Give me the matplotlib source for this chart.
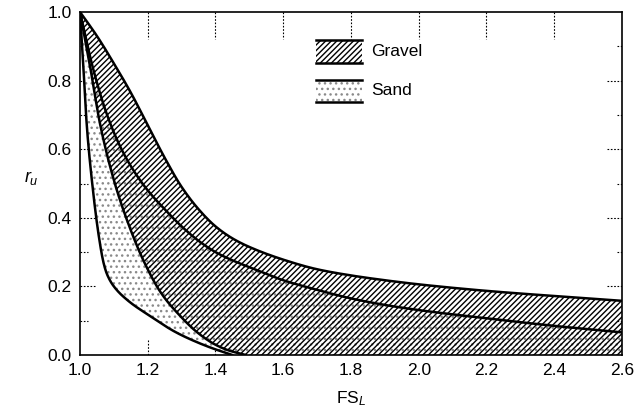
import numpy as np
import matplotlib
matplotlib.use("Agg")
import matplotlib.pyplot as plt
import matplotlib.patches as mpatches

plt.rcParams.update({
    "font.family": ["Liberation Sans", "DejaVu Sans"],
    "mathtext.fontset": "custom",
    "mathtext.rm": "Liberation Sans",
    "mathtext.it": "Liberation Sans:italic",
    "font.size": 12.5,
    "hatch.linewidth": 1.0,
})

# ---- curves: (FS_L, r_u) ----
# A: upper bound of gravel band
A_X = [1.00, 1.05, 1.10, 1.15, 1.20, 1.25, 1.30, 1.35, 1.40, 1.45, 1.50, 1.60, 1.70, 1.80, 1.90, 2.00, 2.20, 2.40, 2.60]
A_Y = [1.00, 0.93, 0.85, 0.765, 0.67, 0.575, 0.49, 0.425, 0.375, 0.340, 0.315, 0.278, 0.250, 0.232, 0.218, 0.206, 0.187, 0.172, 0.158]
# B: upper bound of sand band (middle line)
B_X = [1.00, 1.04, 1.08, 1.12, 1.16, 1.20, 1.25, 1.30, 1.35, 1.40, 1.45, 1.50, 1.60, 1.70, 1.80, 1.90, 2.00, 2.20, 2.40, 2.60]
B_Y = [1.00, 0.83, 0.70, 0.605, 0.535, 0.48, 0.425, 0.375, 0.333, 0.300, 0.276, 0.256, 0.218, 0.190, 0.165, 0.146, 0.131, 0.107, 0.085, 0.066]
# C: lower bound of gravel band
C_X = [1.00, 1.03, 1.06, 1.10, 1.14, 1.19, 1.24, 1.29, 1.35, 1.40, 1.44, 1.49]
C_Y = [1.00, 0.84, 0.67, 0.51, 0.39, 0.27, 0.18, 0.12, 0.063, 0.030, 0.013, 0.000]
# D: lower bound of sand band
D_X = [1.00, 1.01, 1.02, 1.035, 1.055, 1.07, 1.08, 1.10, 1.14, 1.20, 1.28, 1.33, 1.39, 1.45]
D_Y = [1.00, 0.84, 0.67, 0.51, 0.35, 0.267, 0.235, 0.200, 0.160, 0.118, 0.068, 0.044, 0.020, 0.000]

X_TICKS = [1.0, 1.2, 1.4, 1.6, 1.8, 2.0, 2.2, 2.4, 2.6]
Y_TICKS = [0.0, 0.2, 0.4, 0.6, 0.8, 1.0]
Y_MINOR = [0.1, 0.3, 0.5, 0.7, 0.9]


def pchip(x, y, xs):
    """monotone cubic through the read points (keeps curves smooth, no overshoot)"""
    x = np.asarray(x, float); y = np.asarray(y, float)
    h = np.diff(x); dl = np.diff(y) / h
    m = np.zeros_like(y)
    for k in range(1, len(x) - 1):
        if dl[k - 1] * dl[k] > 0:
            w1 = 2 * h[k] + h[k - 1]; w2 = h[k] + 2 * h[k - 1]
            m[k] = (w1 + w2) / (w1 / dl[k - 1] + w2 / dl[k])
    m[0] = dl[0]; m[-1] = dl[-1]
    xs = np.clip(xs, x[0], x[-1])
    i = np.clip(np.searchsorted(x, xs) - 1, 0, len(x) - 2)
    t = (xs - x[i]) / h[i]
    h00 = 2*t**3 - 3*t**2 + 1; h10 = t**3 - 2*t**2 + t
    h01 = -2*t**3 + 3*t**2; h11 = t**3 - t**2
    return h00*y[i] + h10*h[i]*m[i] + h01*y[i+1] + h11*h[i]*m[i+1]


fig = plt.figure(figsize=(6.43, 4.12), dpi=100)
ax = fig.add_axes([0.1244, 0.1383, 0.8429, 0.8326])

xs = np.linspace(1.0, 2.6, 1200)
a = pchip(A_X, A_Y, xs)
b = pchip(B_X, B_Y, xs)
c = np.where(xs <= C_X[-1], pchip(C_X, C_Y, xs), 0.0)
d = np.where(xs <= D_X[-1], pchip(D_X, D_Y, xs), 0.0)

# sand band (stippled) then gravel band (hatched) on top
ax.fill_between(xs, d, b, facecolor="white", edgecolor="#8a8a8a", hatch="...", lw=0, zorder=1)
ax.fill_between(xs, c, a, facecolor="none", edgecolor="black", hatch="//////", lw=0, zorder=2)

for cx, cy in [(A_X, a), (B_X, b), (C_X, c), (D_X, d)]:
    keep = xs <= cx[-1]
    ax.plot(xs[keep], cy[keep], color="black", lw=1.8, zorder=3, solid_capstyle="round")

ax.set_xlim(1.0, 2.6)
ax.set_ylim(0.0, 1.0)
ax.set_xticks(X_TICKS)
ax.set_yticks(Y_TICKS)
ax.set_xticklabels([f"{v:.1f}" for v in X_TICKS])
ax.set_yticklabels([f"{v:.1f}" for v in Y_TICKS])
ax.tick_params(length=0, pad=6, labelsize=12.5)
for s in ax.spines.values():
    s.set_linewidth(1.2)

# dotted inward ticks
xt = ax.get_xaxis_transform()
yt = ax.get_yaxis_transform()
dot = dict(color="black", lw=0.8, ls=(0, (1.5, 1.5)), zorder=0.5)
for v in X_TICKS[1:-1]:
    ax.plot([v, v], [1.0, 0.92], transform=xt, **dot)
    ax.plot([v, v], [0.0, 0.045], transform=xt, **dot)
for v in Y_TICKS[1:-1]:
    ax.plot([0.0, 0.028], [v, v], transform=yt, **dot)
    ax.plot([1.0, 0.972], [v, v], transform=yt, **dot)
for v in Y_MINOR:
    ax.plot([0.0, 0.015], [v, v], transform=yt, **dot)
    ax.plot([1.0, 0.99], [v, v], transform=yt, **dot)

ax.set_xlabel(r"FS$_{\mathit{L}}$", fontsize=12.5, labelpad=8)
ax.set_ylabel(r"$\mathit{r_u}$", fontsize=13, rotation=0)
ax.yaxis.set_label_coords(-0.09, 0.49)

# legend drawn by hand
lx0, lx1 = 0.435, 0.520
for (y0, y1, hatch, ec, label) in [(0.851, 0.918, "//////", "black", "Gravel"),
                                   (0.738, 0.802, "...", "#8a8a8a", "Sand")]:
    ax.add_patch(mpatches.Rectangle((lx0, y0), lx1 - lx0, y1 - y0, transform=ax.transAxes,
                                    facecolor="white", edgecolor=ec, hatch=hatch, lw=0, zorder=4))
    ax.plot([lx0, lx1], [y0, y0], transform=ax.transAxes, color="black", lw=1.8, zorder=5)
    ax.plot([lx0, lx1], [y1, y1], transform=ax.transAxes, color="black", lw=1.8, zorder=5)
    ax.text(lx1 + 0.018, (y0 + y1) / 2, label, transform=ax.transAxes, va="center",
            ha="left", fontsize=12.5, zorder=5)

fig.savefig("out.png", dpi=100)
